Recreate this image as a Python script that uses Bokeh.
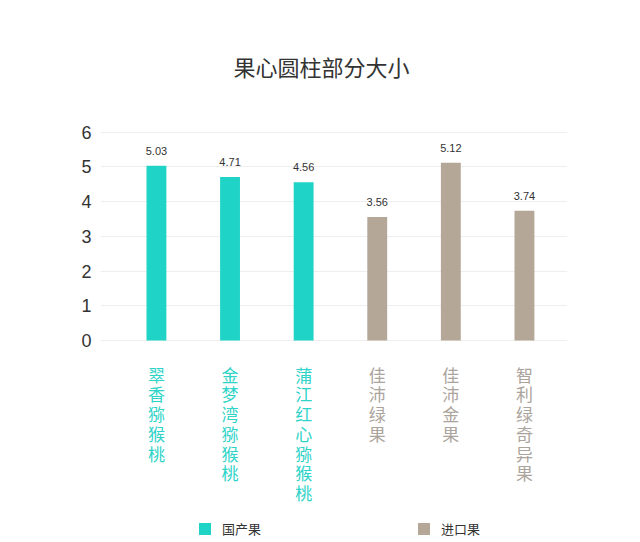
from bokeh.plotting import figure
from bokeh.models import Range1d, FixedTicker, Legend, LegendItem, ColumnDataSource
from bokeh.core.properties import value
from bokeh.embed import file_html
from bokeh.resources import INLINE

# ---- data ----
title_text = "果心圆柱部分大小"
names = ["翠香猕猴桃", "金梦湾猕猴桃", "蒲江红心猕猴桃", "佳沛绿果", "佳沛金果", "智利绿奇异果"]
sizes = [5.03, 4.71, 4.56, 3.56, 5.12, 3.74]
groups = ["国产果", "国产果", "国产果", "进口果", "进口果", "进口果"]
group_names = ["国产果", "进口果"]
y_ticks = [0, 1, 2, 3, 4, 5, 6]

# ---- styles ----
bar_colors = {"国产果": "#20d3c7", "进口果": "#b5a797"}
label_colors = {"国产果": "#2fd3c8", "进口果": "#aba49c"}
CJK = "Noto Sans CJK SC"
NUM = "Liberation Sans"

p = figure(width=632, height=538,
           x_range=Range1d(-0.76, 5.585), y_range=Range1d(-5.70, 7.2),
           output_backend="svg", toolbar_location=None,
           min_border_left=100, min_border_right=65, min_border_top=90, min_border_bottom=0,
           title=title_text)
p.outline_line_color = None
p.background_fill_color = "white"
p.border_fill_color = "white"

p.title.text_font = CJK
p.title.text_font_size = "22px"
p.title.text_font_style = "normal"
p.title.text_color = "#333333"
p.title.align = "left"
p.title.offset = 133
p.title.standoff = 18

p.xaxis.visible = False
p.xgrid.visible = False
p.ygrid.ticker = FixedTicker(ticks=y_ticks)
p.ygrid.grid_line_color = "#eeeeee"
p.ygrid.grid_line_width = 1

p.yaxis.ticker = FixedTicker(ticks=y_ticks)
p.yaxis.axis_line_color = None
p.yaxis.major_tick_line_color = None
p.yaxis.major_tick_out = 0
p.yaxis.major_tick_in = 0
p.yaxis.minor_tick_line_color = None
p.yaxis.major_label_standoff = 9
p.yaxis.major_label_text_font = NUM
p.yaxis.major_label_text_font_size = "18px"
p.yaxis.major_label_text_color = "#333333"

idx = list(range(len(names)))
items = []
for g in group_names:
    xs = [i for i in idx if groups[i] == g]
    src = ColumnDataSource(dict(x=xs, top=[sizes[i] for i in xs]))
    r = p.vbar(x="x", top="top", bottom=0, width=0.27, source=src,
               fill_color=bar_colors[g], line_color=None)
    items.append(LegendItem(label=g, renderers=[r]))

# value labels
p.text(x=idx, y=sizes, text=[f"{v:.2f}" for v in sizes],
       text_align="center", text_baseline="bottom", y_offset=-11,
       text_font=value(NUM), text_font_size="11px", text_color="#333333")

# vertical category labels
p.text(x=idx, y=[0] * len(idx), text=["\n".join(n) for n in names],
       text_align="center", text_baseline="top", y_offset=21,
       text_font=value(CJK), text_font_size="17px", text_line_height=0.79,
       text_color=[label_colors[g] for g in groups])

legend = Legend(items=items, orientation="horizontal", location=(97, 0),
                spacing=155, padding=0, margin=0, border_line_color=None,
                background_fill_alpha=0, label_text_font=CJK,
                label_text_font_size="13px", label_text_color="#333333",
                glyph_width=15, glyph_height=15, label_standoff=10)
p.add_layout(legend, "center")

open("out.html", "w").write(file_html(p, INLINE))
